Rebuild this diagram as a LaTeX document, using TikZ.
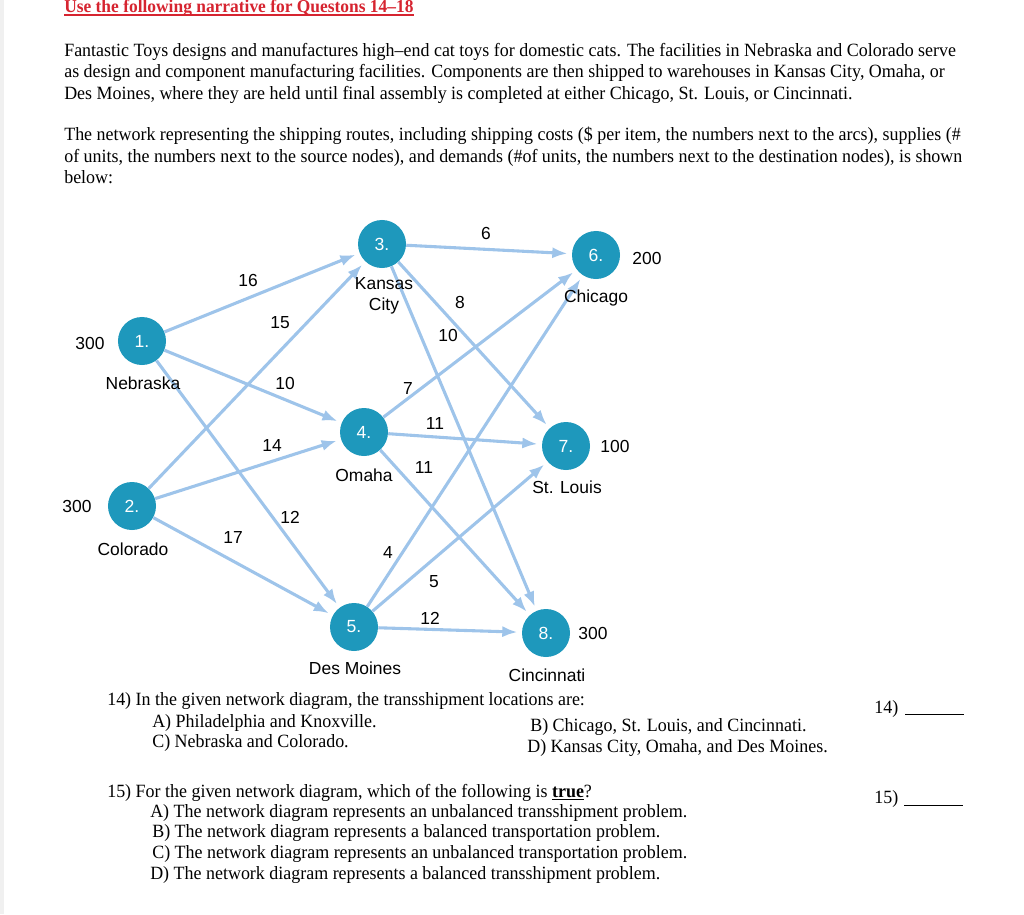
\documentclass[tikz,border=0pt]{standalone}
\usepackage{fontspec}
\setmainfont[FakeStretch=0.96]{Liberation Serif}
\newfontfamily\netfont{Liberation Sans}
\usetikzlibrary{arrows.meta}

\definecolor{nodeteal}{RGB}{30,152,188}
\definecolor{arcblue}{RGB}{158,196,234}
\definecolor{headred}{RGB}{214,36,48}

\begin{document}
\begin{tikzpicture}[x=0.025cm, y=-0.025cm,
    city/.style={circle, fill=nodeteal, minimum size=1.2cm, inner sep=0pt,
        text=white, font=\netfont\fontsize{12.5}{14}\selectfont},
    route/.style={draw=arcblue, line width=2.2pt, -{Latex[length=3.8mm, width=2.8mm]}, shorten >=3pt},
    cost/.style={font=\netfont\fontsize{12.4}{14}\selectfont, inner sep=0pt},
    cityname/.style={cost, align=center},
    txt/.style={anchor=base west, inner sep=0pt, font=\fontsize{13.3}{15}\selectfont}]
    \useasboundingbox (0,0) rectangle (1024,914);
    \fill[gray!12] (0,0) rectangle (4,914);

    % Heading
    \node[txt, text=headred, font=\bfseries\fontsize{12.9}{15}\selectfont] (head) at (64,12.5)
        {Use the following narrative for Questons 14--18};
    \draw[headred, line width=0.8pt] ([yshift=-1.8pt]head.base west) -- ([yshift=-1.8pt]head.base east);

    % Narrative
    \foreach \y/\t [count=\i] in {
        56/{Fantastic Toys designs and manufactures high–end cat toys for domestic cats. The facilities in Nebraska and Colorado serve},
        77/{as design and component manufacturing facilities. Components are then shipped to warehouses in Kansas City, Omaha, or},
        99/{Des Moines, where they are held until final assembly is completed at either Chicago, St. Louis, or Cincinnati.},
        140.5/{The network representing the shipping routes, including shipping costs (\$ per item, the numbers next to the arcs), supplies (\#},
        162.5/{of units, the numbers next to the source nodes), and demands (\#of units, the numbers next to the destination nodes), is shown},
        183.5/{below:}}
        \node[txt] (para\i) at (64,\y) {\t};

    % Nodes
    \node[city] (n1) at (142,341) {1.};
    \node[city] (n2) at (132,506) {2.};
    \node[city] (n3) at (382,244) {3.};
    \node[city] (n4) at (364,432) {4.};
    \node[city] (n5) at (354,627) {5.};
    \node[city] (n6) at (596,255) {6.};
    \node[city] (n7) at (566,446) {7.};
    \node[city] (n8) at (546,633) {8.};

    % Arcs
    \foreach \a/\b in {n1/n3, n1/n4, n1/n5, n2/n3, n2/n4, n2/n5,
        n3/n6, n3/n7, n3/n8, n4/n6, n4/n7, n4/n8, n5/n6, n5/n7, n5/n8}
        \draw[route] (\a) -- (\b);

    % Shipping costs
    \foreach \x/\y/\c [count=\i] in {248/280/16, 280/323/15, 285/383/10, 272/445/14,
        290/517/12, 233/537/17, 486/233/6, 460/302/8, 448/335/10, 408/388/7,
        435/423/11, 424/467/11, 388/552/4, 434/582/5, 430/618/12}
        \node[cost] (cost\i) at (\x,\y) {\c};

    % Supplies and demands
    \node[cost] (s1) at (90,343) {300};
    \node[cost] (s2) at (77,506) {300};
    \node[cost] (d6) at (647,258) {200};
    \node[cost] (d7) at (615,446) {100};
    \node[cost] (d8) at (593,633) {300};

    % City names
    \node[cityname] (nebraska) at (143,383) {Nebraska};
    \node[cityname] (colorado) at (133,549) {Colorado};
    \node[cityname, font=\netfont\fontsize{12.4}{15}\selectfont] (kansas) at (384,296) {Kansas\\City};
    \node[cityname] (omaha) at (364,475) {Omaha};
    \node[cityname] (desmoines) at (355,668) {Des Moines};
    \node[cityname] (chicago) at (596,298) {Chicago};
    \node[cityname] (stlouis) at (567,487) {St. Louis};
    \node[cityname] (cincinnati) at (547,675) {Cincinnati};

    % Question 14
    \node[txt] (q14) at (107,705) {14) In the given network diagram, the transshipment locations are:};
    \node[txt] (q14a) at (152,727) {A) Philadelphia and Knoxville.};
    \node[txt] (q14c) at (152,747) {C) Nebraska and Colorado.};
    \node[txt] (q14b) at (530,731) {B) Chicago, St. Louis, and Cincinnati.};
    \node[txt] (q14d) at (527,752) {D) Kansas City, Omaha, and Des Moines.};
    \node[txt] (ans14) at (874,713) {14)};
    \draw[line width=0.7pt] (905,714) -- (964,714);

    % Question 15
    \node[txt] (q15) at (107,797) {15) For the given network diagram, which of the following is \underline{\textbf{true}}?};
    \foreach \x/\y/\t [count=\i] in {
        150/817/{A) The network diagram represents an unbalanced transshipment problem.},
        152/837/{B) The network diagram represents a balanced transportation problem.},
        152/858/{C) The network diagram represents an unbalanced transportation problem.},
        150/879/{D) The network diagram represents a balanced transshipment problem.}}
        \node[txt] (q15opt\i) at (\x,\y) {\t};
    \node[txt] (ans15) at (874,803) {15)};
    \draw[line width=0.7pt] (904,805) -- (963,805);
\end{tikzpicture}
\end{document}
